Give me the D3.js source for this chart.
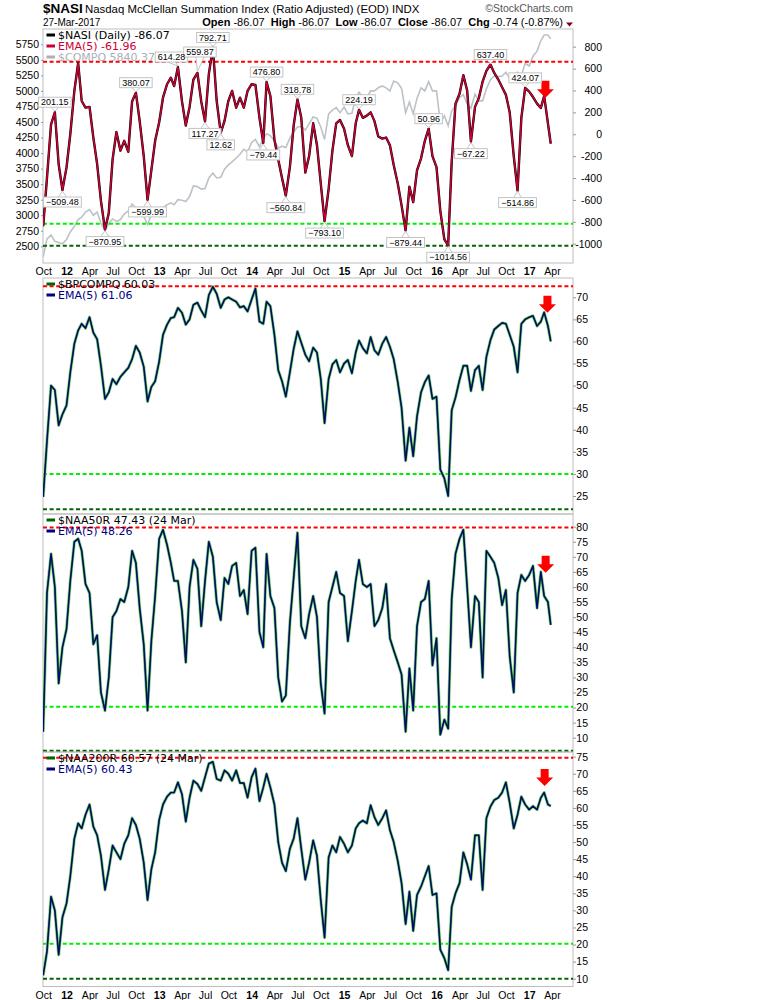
<!DOCTYPE html>
<html>
<head>
<meta charset="utf-8">
<script src="https://cdn.jsdelivr.net/npm/d3@7"></script>
<style>
  body { margin: 0; background: #fff; }
  svg { display: block; font-family: "Liberation Sans", Arial, sans-serif; }
</style>
</head>
<body>
<svg id="chart" width="770" height="1000"></svg>
<script>
// Half-month samples, Oct 2011 .. 27 Mar 2017
const nasi = [
  -840, -396, 91, 201.15, -274, -509.48, -305, 0, 396, 650,
  304, 243, 250, -30, -272, -609, -870.95, -720, -230, 20,
  -150, -60, -160, 300, 380.07, 120, -200, -599.99, -330, -60,
  110, 334, 457, 517, 440, 614.28, 300, 80, 250, 500,
  559.87, 300, 117.27, 550, 792.71, 304, 12.62, 122, 304, 396,
  243, 334, 243, 396, 457, 450, 150, -79.44, 476.8, 350,
  -50, -230, -400, -560.84, -300, 80, 318.78, 150, -350, -200,
  100, -100, -450, -793.1, -500, -150, 100, 130, 50, -100,
  -200, 100, 224.19, 150, 170, 200, 120, -20, -40, -30,
  -100, -280, -450, -650, -879.44, -480, -620, -330, -220, -60,
  50.96, -200, -300, -700, -960, -1014.56, -250, 280, 370, 540,
  400, -67.22, 250, 330, 480, 580, 637.4, 560, 500, 430,
  360, 200, -200, -514.86, 150, 424.07, 390, 340, 280, 240,
  350, 100, -86.07
];
const compo = [
  2335, 2620, 2680, 2580, 2560, 2540, 2610, 2730, 2820, 2930,
  2970, 3050, 3090, 3000, 3050, 2870, 2750, 2870, 2940, 2900,
  2930, 3020, 3070, 3180, 3120, 3100, 2980, 2850, 3010, 2990,
  3020, 3120, 3170, 3200, 3170, 3250, 3240, 3220, 3300, 3470,
  3460, 3420, 3430, 3600, 3680, 3600, 3610, 3740, 3810, 3860,
  3920, 3980, 4060, 4020, 4170, 4220, 4100, 4240, 4310, 4280,
  4200, 4080, 4110, 4090, 4240, 4340, 4420, 4430, 4370, 4470,
  4580, 4560, 4420, 4220, 4630, 4690, 4730, 4650, 4740, 4630,
  4640, 4890, 4980, 4900, 4890, 5000, 5000, 5050, 5080, 5050,
  5000, 5160, 5130, 5040, 4650, 4820, 4630, 4880, 5050, 5000,
  5150, 5000, 5000, 4490, 4600, 4440, 4680, 4760, 4890, 4940,
  4790, 4720, 4950, 4840, 4840, 5030, 5180, 5240, 5230, 5240,
  5300, 5200, 5150, 5300, 5250, 5440, 5400, 5560, 5640, 5810,
  5900, 5900, 5840.37
];
const bpcompq = [
  24.8, 37.5, 50, 49, 41, 43.5, 45.5, 53, 59.5, 62.5,
  64, 63, 65.5, 62, 60.5, 54.5, 47, 48.5, 51.5, 50.3,
  52, 53, 54, 56, 59, 57.5, 54.3, 46.4, 49.7, 51,
  55.5, 61.5, 63.8, 65.3, 65.5, 67.6, 66.5, 63.8, 65, 68.3,
  68.8, 67, 65.5, 70.5, 72.4, 70.8, 67.6, 69.5, 70, 69.5,
  69, 67.7, 68, 66.8, 69.5, 72, 64.5, 64, 69, 68,
  61.5, 53.5, 51, 47.5, 53, 58.3, 62.3, 59.7, 57, 55.5,
  58.6, 57.5, 51.5, 41.5, 51.5, 54.8, 55.8, 53, 55, 55.8,
  52.8, 57.5, 60.2, 58.5, 57.3, 61, 58, 57, 59.5, 61,
  58.8, 56, 50.8, 45, 33, 40.5, 34, 43, 48.5, 50.8,
  52.3, 47, 47.5, 31, 29, 25, 44.4, 47.3, 51.3, 54.5,
  54.5, 48.8, 53.5, 54.5, 49, 56.5, 60.3, 62.7, 63.5, 64.2,
  64, 61.5, 58.8, 53, 64, 65, 65.5, 65.8, 63.5, 64.5,
  66.6, 63.5, 60.03
];
const naa50r = [
  12, 58, 71, 60, 28, 40, 46, 62, 75, 76,
  72, 61, 58, 41, 44, 25, 19, 30, 50, 52,
  56, 55, 60, 72, 68, 53, 41, 19, 42, 57,
  76, 79, 74, 68, 62, 62, 52, 35, 60, 69,
  66, 47, 62, 75, 70, 55, 49, 63, 61, 67,
  68, 57, 59, 51, 72, 73, 45, 40, 71, 57,
  53, 30, 22, 24, 48, 63, 78, 47, 43, 51,
  57, 50, 28, 18, 55, 60, 65, 58, 57, 42,
  52, 62, 69, 61, 60, 61, 47, 49, 53, 61,
  43, 39, 35, 31, 12, 33, 19, 47, 55, 56,
  62, 34, 43, 11, 16, 13, 56, 71, 76, 79,
  60, 40, 57, 55, 30, 72, 70, 68, 63, 54,
  59, 37, 25, 58, 64, 62, 64, 67, 53, 65,
  57, 55, 47.43
];
const naa200r = [
  11, 18, 34, 30, 17, 28, 32, 40, 51, 55.5,
  54, 58, 61, 54.5, 52, 46, 36, 42, 49, 47,
  45, 49.5, 52, 57, 55, 51, 44, 33, 42, 47,
  56.5, 61, 63.3, 64.5, 64.5, 67.5, 64, 56, 63, 68,
  67, 65, 69, 73, 73.5, 68.5, 68, 71, 70, 68,
  71, 67.3, 67.3, 63, 69, 71.5, 62, 66, 70, 66,
  61, 50, 44, 41.5, 48, 51, 57, 48, 39, 44,
  50.5, 46, 33, 22, 45.5, 49, 47, 51.5, 49.5, 47,
  49, 54, 55.5, 56.3, 55.5, 60.8, 57.3, 55, 57, 59.3,
  53.5, 50, 44.5, 38, 26, 35.5, 24, 34.5, 37, 40,
  43, 34.5, 35, 18.5, 16, 12.5, 31, 35, 38, 47,
  43.5, 39, 52, 52, 36, 57, 60.4, 62.3, 63, 64.5,
  67.5, 61.5, 54, 58, 63.3, 61, 59.5, 60.5, 59.5, 63,
  64.5, 61, 60.57
];

// sample dates: 1st and 16th of each month, last bar 27 Mar 2017
const dates = [];
for (let m = 0; m < 66; m++) {
  dates.push(new Date(2011, 9 + m, 1));
  dates.push(new Date(2011, 9 + m, 16));
}
dates.push(new Date(2017, 2, 27));

// peak / trough labels on $NASI
const nasiNotes = [
  ["2011-11-16", 201.15, "hi"], ["2011-12-16", -509.48, "lo"],
  ["2012-06-01", -870.95, "lo"], ["2012-10-01", 380.07, "hi"],
  ["2012-11-16", -599.99, "lo"], ["2013-03-16", 614.28, "hi"],
  ["2013-06-01", 559.87, "hi"], ["2013-07-01", 117.27, "lo"],
  ["2013-08-01", 792.71, "hi"], ["2013-09-01", 12.62, "lo"],
  ["2014-02-16", -79.44, "lo"], ["2014-03-01", 476.80, "hi"],
  ["2014-05-16", -560.84, "lo"], ["2014-07-01", 318.78, "hi"],
  ["2014-10-16", -793.10, "lo"], ["2015-03-01", 224.19, "hi"],
  ["2015-09-01", -879.44, "lo"], ["2015-12-01", 50.96, "hi"],
  ["2016-02-16", -1014.56, "lo"], ["2016-05-16", -67.22, "lo"],
  ["2016-08-01", 637.40, "hi"], ["2016-11-16", -514.86, "lo"],
  ["2016-12-16", 424.07, "hi"]
];

// horizontal guide levels: [overbought, oversold, extreme]
const nasiLevels = [663, -817, -1018];
const bpLevels = [72.5, 30, 22];
const n50Levels = [79.7, 20.3, 5.7];
const n200Levels = [74.7, 20.2, 10];

// red arrows: [date, value at tip]
const arrows = [["2017-03-06", 334], ["2017-03-14", 66.5], ["2017-03-07", 64.7], ["2017-03-03", 66.4]];

const nasiTicks = d3.range(-1000, 801, 200);
const compoTicks = d3.range(2500, 5751, 250);
const bpTicks = d3.range(25, 71, 5);
const n50Ticks = d3.range(10, 81, 5);
const n200Ticks = d3.range(10, 76, 5);

const legends = [
  [["$NASI (Daily) -86.07", "#000", "#000"], ["EMA(5) -61.96", "#cc0033", "#cc0033"], ["$COMPO 5840.37", "#a9b1b9", "#a9b1b9"]],
  [["$BPCOMPQ 60.03", "#000", "#006400"], ["EMA(5) 61.06", "#000080", "#000080"]],
  [["$NAA50R 47.43 (24 Mar)", "#000", "#006400"], ["EMA(5) 48.26", "#000080", "#000080"]],
  [["$NAA200R 60.57 (24 Mar)", "#000", "#006400"], ["EMA(5) 60.43", "#000080", "#000080"]]
];

const parse = d3.timeParse("%Y-%m-%d");
const svg = d3.select("#chart");
const L = 43, R = 573;

const x = d3.scaleTime()
  .domain([new Date(2012, 0, 1), new Date(2017, 0, 1)])
  .range([66.5, 529.2]);

const panels = [
  { top: 29, bottom: 263, y: d3.scaleLinear().domain([-1000, 800]).range([243.7, 46.7]), ticks: nasiTicks, tx: 602, levels: nasiLevels },
  { top: 278, bottom: 514, y: d3.scaleLinear().domain([25, 70]).range([496, 297.3]), ticks: bpTicks, tx: 588, levels: bpLevels },
  { top: 514, bottom: 752, y: d3.scaleLinear().domain([10, 80]).range([737.7, 526.7]), ticks: n50Ticks, tx: 588, levels: n50Levels },
  { top: 752, bottom: 986.5, y: d3.scaleLinear().domain([10, 75]).range([978.7, 756.7]), ticks: n200Ticks, tx: 588, levels: n200Levels }
];
const yCompo = d3.scaleLinear().domain([2500, 5750]).range([246.3, 44.3]);
const series = [nasi, bpcompq, naa50r, naa200r];

// header
svg.append("text").attr("x", L).attr("y", 13).attr("font-size", 13.5).attr("font-weight", "bold").text("$NASI");
svg.append("text").attr("x", 85).attr("y", 12.5).attr("font-size", 11.4)
  .text("Nasdaq McClellan Summation Index (Ratio Adjusted) (EOD) INDX");
svg.append("text").attr("x", R).attr("y", 12).attr("font-size", 10.5).attr("fill", "#555")
  .attr("text-anchor", "end").text("\u00a9StockCharts.com");
svg.append("text").attr("x", L).attr("y", 26).attr("font-size", 10).text("27-Mar-2017");
const quote = svg.append("text").attr("x", 563).attr("y", 26).attr("font-size", 11).attr("text-anchor", "end");
[["Open", " -86.07  "], ["High", " -86.07  "], ["Low", " -86.07  "], ["Close", " -86.07  "], ["Chg", " -0.74 (-0.87%)"]]
  .forEach(([k, v]) => {
    quote.append("tspan").attr("font-weight", "bold").text(k);
    quote.append("tspan").attr("xml:space", "preserve").text(v);
  });
svg.append("path").attr("d", "M566,22.5 L573,22.5 L569.5,26.5 Z").attr("fill", "#7a0020");

const line = (yScale, vals) => d3.line()
  .x((d, i) => x(dates[i]))
  .y(d => yScale(d))(vals);

panels.forEach((p, k) => {
  const clipId = "clip" + k;
  svg.append("clipPath").attr("id", clipId).append("rect")
    .attr("x", L).attr("y", p.top).attr("width", R - L).attr("height", p.bottom - p.top);

  // frame
  svg.append("rect").attr("x", L).attr("y", p.top).attr("width", R - L).attr("height", p.bottom - p.top)
    .attr("fill", "none").attr("stroke", "#bdbdbd");

  // right axis
  const ax = svg.append("g").attr("transform", `translate(${R},0)`)
    .call(d3.axisRight(p.y).tickValues(p.ticks).tickSize(3).tickFormat(d => d));
  ax.select(".domain").remove();
  ax.selectAll("line").attr("stroke", "#999");
  ax.selectAll("text").attr("x", p.tx - R).attr("text-anchor", "end")
    .attr("font-size", 10.5).attr("font-family", "Liberation Sans, Arial, sans-serif").attr("fill", "#000");

  const g = svg.append("g").attr("clip-path", `url(#${clipId})`);

  // legend
  const lg = svg.append("g");
  legends[k].forEach(([label, tc, mc], j) => {
    const ly = p.top + 6 + j * 11;
    lg.append("rect").attr("x", 46.5).attr("y", ly - 1.5).attr("width", 8.5).attr("height", 3).attr("fill", mc);
    lg.append("text").attr("x", 58).attr("y", ly + 4).attr("font-family", "DejaVu Sans, Verdana, sans-serif")
      .attr("font-size", 11).attr("fill", tc).text(label);
  });

  if (k === 0) {
    g.append("path").attr("d", line(yCompo, compo)).attr("fill", "none")
      .attr("stroke", "#bcc2c8").attr("stroke-width", 1.6);
  }

  // guide levels
  const levelColors = ["#ff0000", "#00ee00", "#006400"];
  g.selectAll(null).data(p.levels).join("line")
    .attr("x1", L).attr("x2", R)
    .attr("y1", d => p.y(d)).attr("y2", d => p.y(d))
    .attr("stroke", (d, i) => levelColors[i]).attr("stroke-width", 2)
    .attr("stroke-dasharray", "4,2.6");

  const vals = series[k];
  if (k === 0) {
    g.append("path").attr("d", line(p.y, vals)).attr("fill", "none")
      .attr("stroke", "#000").attr("stroke-width", 2.4).attr("stroke-linejoin", "round");
    g.append("path").attr("d", line(p.y, vals)).attr("fill", "none")
      .attr("stroke", "#cc0033").attr("stroke-width", 1.5).attr("stroke-linejoin", "round");
  } else {
    g.append("path").attr("d", line(p.y, vals)).attr("fill", "none")
      .attr("stroke", "#9ad39a").attr("stroke-width", 3.2).attr("stroke-linejoin", "round");
    g.append("path").attr("d", line(p.y, vals)).attr("fill", "none")
      .attr("stroke", "#0b640b").attr("stroke-width", 1.8).attr("stroke-linejoin", "round");
    g.append("path").attr("d", line(p.y, vals)).attr("fill", "none")
      .attr("stroke", "#000080").attr("stroke-width", 1.1).attr("stroke-linejoin", "round");
  }

  // red arrow
  const tx = x(parse(arrows[k][0])), ty = p.y(arrows[k][1]);
  svg.append("path")
    .attr("d", `M${tx - 4},${ty - 17} L${tx + 4},${ty - 17} L${tx + 4},${ty - 8.5} L${tx + 8.5},${ty - 8.5} L${tx},${ty} L${tx - 8.5},${ty - 8.5} L${tx - 4},${ty - 8.5} Z`)
    .attr("fill", "#ff0000");
});

// left axis for $COMPO
const lax = svg.append("g").attr("transform", `translate(${L},0)`)
  .call(d3.axisLeft(yCompo).tickValues(compoTicks).tickSize(2).tickPadding(2).tickFormat(d => d));
lax.select(".domain").remove();
lax.selectAll("line").attr("stroke", "#999");
lax.selectAll("text").attr("font-size", 10.5).attr("font-family", "Liberation Sans, Arial, sans-serif");

// x axes
const xTicks = d3.timeMonth.every(3).range(new Date(2011, 9, 1), new Date(2017, 4, 1));
[263, 986.5].forEach(yb => {
  const xa = svg.append("g").attr("transform", `translate(0,${yb})`)
    .call(d3.axisBottom(x).tickValues(xTicks).tickSize(0).tickPadding(5)
      .tickFormat(d => d.getMonth() === 0 ? d3.timeFormat("%y")(d) : d3.timeFormat("%b")(d)));
  xa.select(".domain").remove();
  xa.selectAll("text").attr("font-size", 10.5).attr("font-family", "Liberation Sans, Arial, sans-serif")
    .attr("font-weight", d => d.getMonth() === 0 ? "bold" : "normal");
});

// value labels on $NASI; crowded ones are nudged apart as on the original
const noteShift = { "614.28": [-6.5, 0], "559.87": [2.5, -11] };
const y1 = panels[0].y;
const notes = svg.append("g");
nasiNotes.forEach(([ds, v, kind]) => {
  const txt = d3.format(".2f")(v);
  const [sx, sy] = noteShift[txt] || [0, 0];
  const px = x(parse(ds)), py = y1(v);
  const bx = px + sx;
  const cy = (kind === "hi" ? py - 10 : py + 12) + sy;
  const t = notes.append("text").attr("x", bx).attr("y", cy + 3.2).attr("text-anchor", "middle")
    .attr("font-size", 9).text(txt);
  const w = t.node().getComputedTextLength() + 5;
  const edge = kind === "hi" ? cy + 5 : cy - 5;
  notes.insert("path", "text")
    .attr("d", `M${bx - 4},${edge} L${px},${kind === "hi" ? py - 1 : py + 1} L${bx + 4},${edge}`)
    .attr("fill", "#fff").attr("stroke", "#c4c4c4");
  notes.insert("rect", "text").attr("x", bx - w / 2).attr("y", cy - 5).attr("width", w).attr("height", 10)
    .attr("fill", "#fff").attr("stroke", "#c4c4c4");
});
</script>
</body>
</html>
